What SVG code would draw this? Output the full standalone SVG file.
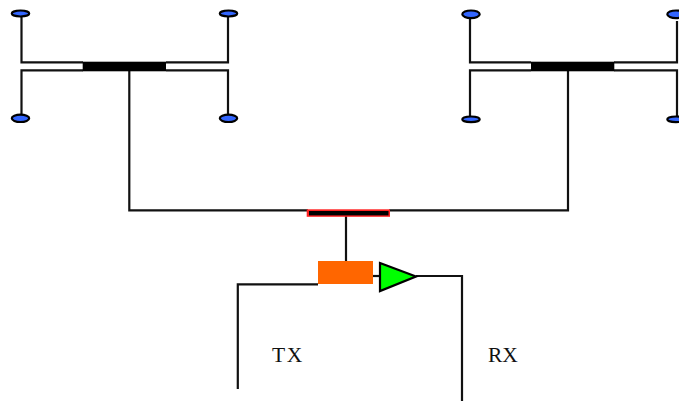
<svg xmlns="http://www.w3.org/2000/svg" width="679" height="401" viewBox="0 0 679 401">
<style>
.w{fill:none;stroke:#111;stroke-width:2.200}
.e{fill:#3366ff;stroke:#000;stroke-width:2.200}
.b{fill:#000}
text{font-family:"Liberation Serif",serif;font-size:21.500px;fill:#111}
</style>
<rect width="679" height="401" fill="#fff"/>
<g id="connectors">
<path class="w" d="M21.500 14V62.300H83M228 14V62.300H166M21.500 118V70.300H83M228 118V70.300H166M129.300 70V210.300H308"/>
<path class="w" d="M470 14V62.300H531M677 21V62.300H614M470 118V70.300H531M677 118V70.300H614M568 70V210.300H389"/>
<path class="w" d="M346 214V262"/>
<path class="w" d="M318 284.300H237.800V389"/>
<path class="w" d="M373 276H380"/>
<path class="w" d="M416 276H462V401"/>
</g>
<g id="ant-a1"><ellipse class="e" cx="20.500" cy="13.500" rx="8.700" ry="3"/></g>
<g id="ant-a2"><ellipse class="e" cx="228.500" cy="13.500" rx="8.700" ry="3"/></g>
<g id="ant-a3"><ellipse class="e" cx="20.500" cy="118.300" rx="8.700" ry="3.700"/></g>
<g id="ant-a4"><ellipse class="e" cx="228.500" cy="118.300" rx="8.700" ry="3.700"/></g>
<g id="ant-b1"><ellipse class="e" cx="471" cy="14.300" rx="8.700" ry="3.800"/></g>
<g id="ant-b2"><ellipse class="e" cx="676" cy="14.300" rx="8.700" ry="3.800"/></g>
<g id="ant-b3"><ellipse class="e" cx="471" cy="119.300" rx="8.700" ry="2.800"/></g>
<g id="ant-b4"><ellipse class="e" cx="676" cy="119.300" rx="8.700" ry="2.800"/></g>
<g id="splitter-a"><rect class="b" x="82.700" y="61.700" width="83.300" height="9.600"/></g>
<g id="splitter-b"><rect class="b" x="531" y="61.700" width="83.300" height="9.600"/></g>
<g id="combiner"><rect x="306.700" y="209.300" width="83.300" height="7.500" fill="#ff2020"/><rect x="309" y="211" width="79.500" height="4.400" fill="#000"/></g>
<g id="tx"><rect x="318" y="261" width="55" height="23" fill="#ff6600"/></g>
<g id="rx"><path d="M380 263L416 276.500L380 291Z" fill="#00ff00" stroke="#000" stroke-width="2.200"/></g>
<g id="labels">
<text x="272" y="362" letter-spacing="1.500">TX</text>
<text x="488" y="362">RX</text>
</g>
</svg>
